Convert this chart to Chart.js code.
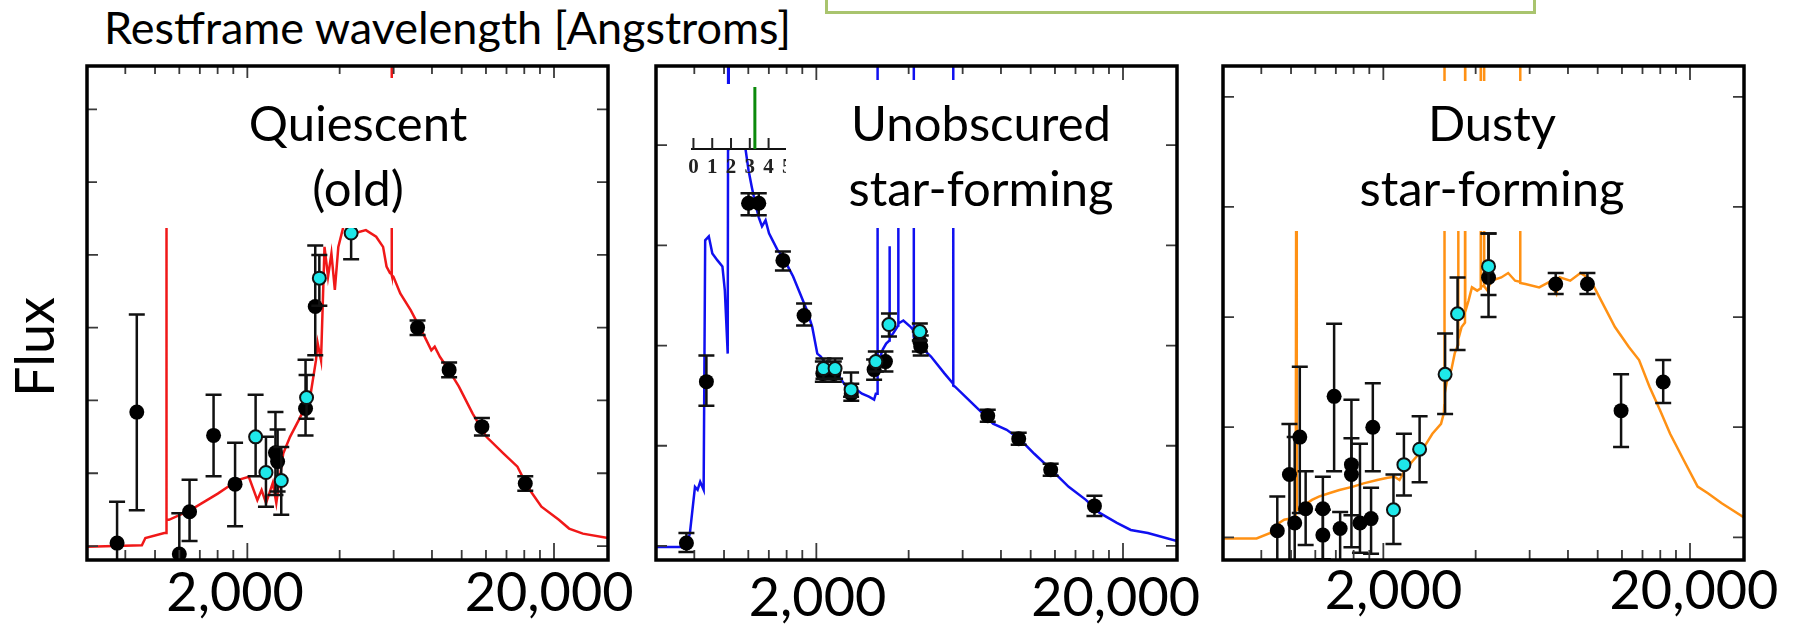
<!DOCTYPE html>
<html>
<head>
<meta charset="utf-8">
<title>SED fits</title>
<script src="https://cdn.jsdelivr.net/npm/chart.js@4.4.1/dist/chart.umd.min.js"></script>
<style>
  html, body { margin: 0; padding: 0; }
  body { position: relative; width: 1794px; height: 624px; overflow: hidden; background: #fff;
         font-family: Lato, "Open Sans", sans-serif; color: #000; }
  .abs { position: absolute; }
  #slideBox { left: 825px; top: -12px; width: 705px; height: 20px; border: 3px solid #a9c46e; }
  #title { left: 104px; top: 5px; font-size: 45px; line-height: 45px; white-space: nowrap; }
  #flux { left: -66px; top: 317px; width: 200px; height: 60px; font-size: 54px; line-height: 60px;
          text-align: center; transform: rotate(-90deg); }
  .plot { top: 40px; }
  #c1 { left: 57px; }
  #c2 { left: 626px; }
  #c3 { left: 1193px; }
  .cover { background: #fff; }
  .tag { width: 500px; top: 90px; text-align: center; font-size: 49px; line-height: 65px; white-space: nowrap; }
</style>
</head>
<body>
<div id="slideBox" class="abs"></div>
<div id="title" class="abs">Restframe wavelength [Angstroms]</div>
<div id="flux" class="abs">Flux</div>

<canvas id="c1" class="abs plot" width="611" height="584"></canvas>
<canvas id="c2" class="abs plot" width="611" height="584"></canvas>
<canvas id="c3" class="abs plot" width="611" height="584"></canvas>

<div class="abs cover" style="left:680px;top:84px;width:106px;height:65px"></div>
<canvas id="pz" class="abs" style="left:680px;top:80px" width="140" height="110"></canvas>

<div class="abs cover" style="left:97px;top:78px;width:499px;height:150px"></div>
<div class="abs cover" style="left:786px;top:80px;width:380px;height:148px"></div>
<div class="abs cover" style="left:1237px;top:81px;width:493px;height:150px"></div>
<div class="abs tag" style="left:108px">Quiescent<br>(old)</div>
<div class="abs tag" style="left:731px">Unobscured<br>star-forming</div>
<div class="abs tag" style="left:1242px">Dusty<br>star-forming</div>

<script>
// observed wavelength (micron) tick marks, flux in arbitrary units
const waveTicks = [0.4, 0.5, 0.6, 0.7, 0.8, 0.9, 1, 2, 3, 4, 5, 6, 7, 8, 9, 10];
const waveMajor = [1, 10];
const xTickLabels = ['2,000', '20,000'];

// --- quiescent galaxy ---
const oldLabelAt = [0.912, 9.64];
const oldFluxTicks = [0, 1, 2, 3, 4, 5, 6];
const oldModelWave = [0.30, 0.453, 0.465, 0.536, 0.543, 0.544, 0.546, 0.555, 0.650, 0.801,
  0.935, 1.011, 1.078, 1.113, 1.151, 1.211, 1.243, 1.309, 1.378, 1.471,
  1.528, 1.610, 1.674, 1.695, 1.739, 1.785, 1.833, 1.880, 1.929, 1.980,
  2.058, 2.15, 2.253, 2.435, 2.631, 2.771, 2.844, 2.918, 2.950, 2.955,
  2.960, 2.995, 3.153, 3.409, 3.591, 3.782, 3.981, 4.083, 4.245, 4.473,
  4.897, 5.43, 6.02, 6.85, 7.60, 8.21, 9.10, 10.37, 11.20, 12.42, 15.0];
const oldModelFlux = [-0.01, 0.01, 0.11, 0.18, 0.18, 5.8, 0.36, 0.36, 0.49, 0.72,
  0.91, 0.95, 0.63, 0.77, 0.59, 0.87, 0.59, 1.27, 1.50, 1.73,
  1.87, 2.10, 2.55, 2.79, 2.55, 4.11, 3.70, 4.02, 3.52, 4.11,
  4.39, 4.6, 4.30, 4.34, 4.25, 4.11, 3.84, 3.75, 3.74, 7.0,
  3.72, 3.70, 3.47, 3.24, 3.06, 2.88, 2.69, 2.74, 2.60, 2.46,
  2.19, 1.82, 1.50, 1.27, 1.09, 0.81, 0.54, 0.36, 0.24, 0.17, 0.11];
const oldPhotWave = [0.376, 0.436, 0.600, 0.648, 0.776, 0.912, 1.235, 1.255, 1.548, 1.665, 3.59, 4.55, 5.82, 8.06];
const oldPhotFlux = [0.04, 1.84, -0.11, 0.47, 1.52, 0.85, 1.28, 1.16, 1.89, 3.29, 3.00, 2.42, 1.64, 0.86];
const oldPhotLo   = [-0.5, 0.49, -0.5, 0.07, 0.96, 0.27, 0.70, 0.75, 1.52, 2.62, 2.90, 2.32, 1.52, 0.76];
const oldPhotHi   = [0.61, 3.18, 0.45, 0.91, 2.08, 1.42, 1.84, 1.60, 2.56, 4.13, 3.10, 2.52, 1.76, 0.96];
const oldMbWave = [1.064, 1.15, 1.29, 1.56, 1.717, 2.18];
const oldMbFlux = [1.50, 1.01, 0.90, 2.04, 3.68, 4.30];
const oldMbLo   = [0.96, 0.54, 0.43, 1.75, 3.30, 3.94];
const oldMbHi   = [2.08, 1.50, 1.36, 2.35, 4.00, 4.70];

// --- unobscured star-forming galaxy ---
const sfLabelAt = [1.009, 9.46];
const sfFluxTicks = [0, 1, 2, 3, 4];
const sfModelWave = [0.30, 0.377, 0.387, 0.402, 0.410, 0.418, 0.429, 0.434, 0.446, 0.458,
  0.476, 0.494, 0.503, 0.514, 0.516, 0.518, 0.53, 0.56, 0.585, 0.601,
  0.616, 0.632, 0.649, 0.665, 0.683, 0.701, 0.720, 0.748, 0.778, 0.798,
  0.840, 0.885, 0.932, 0.969, 1.007, 1.034, 1.088, 1.146, 1.206, 1.271,
  1.338, 1.409, 1.484, 1.543, 1.563, 1.581, 1.583, 1.585, 1.604, 1.646,
  1.689, 1.731, 1.733, 1.735, 1.779, 1.848, 1.850, 1.852, 1.922, 2.024,
  2.076, 2.078, 2.080, 2.131, 2.187, 2.365, 2.620, 2.793, 2.795, 2.797,
  2.834, 3.061, 3.308, 3.577, 3.768, 4.175, 4.632, 5.137, 5.844, 6.651,
  7.567, 8.393, 9.551, 10.60, 12.05, 15.0];
const sfModelFlux = [-0.01, -0.01, 0.13, 0.59, 0.56, 0.64, 0.56, 3.05, 3.09, 2.92,
  2.85, 2.79, 2.55, 1.92, 5.2, 3.97, 4.1, 4.15, 4.0, 3.75,
  3.58, 3.42, 3.28, 3.19, 3.25, 3.12, 3.05, 2.95, 2.89, 2.82,
  2.69, 2.52, 2.35, 2.19, 1.92, 1.89, 1.79, 1.76, 1.66, 1.56,
  1.57, 1.52, 1.49, 1.46, 1.52, 1.52, 5.2, 1.80, 1.86, 1.96,
  2.02, 2.05, 2.99, 2.08, 2.12, 2.20, 3.4, 2.22, 2.25, 2.19,
  2.15, 5.2, 2.08, 2.02, 1.99, 1.89, 1.72, 1.62, 5.2, 1.60,
  1.59, 1.49, 1.39, 1.29, 1.22, 1.16, 1.06, 0.92, 0.76, 0.59,
  0.46, 0.33, 0.23, 0.16, 0.13, 0.05];
const sfPhotWave = [0.377, 0.438, 0.601, 0.649, 0.778, 0.912, 1.05, 1.14, 1.30, 1.543, 1.680, 2.175, 2.19, 3.622, 4.57, 5.81, 8.07];
const sfPhotFlux = [0.03, 1.64, 3.42, 3.42, 2.85, 2.30, 1.72, 1.72, 1.52, 1.76, 1.84, 2.04, 1.99, 1.30, 1.07, 0.76, 0.40];
const sfPhotLo   = [-0.06, 1.40, 3.30, 3.30, 2.75, 2.20, 1.64, 1.64, 1.45, 1.66, 1.74, 1.94, 1.90, 1.24, 1.01, 0.70, 0.30];
const sfPhotHi   = [0.13, 1.90, 3.52, 3.52, 2.94, 2.42, 1.84, 1.84, 1.62, 1.86, 1.94, 2.14, 2.10, 1.36, 1.13, 0.82, 0.50];
const sfMbWave = [1.055, 1.151, 1.298, 1.563, 1.725, 2.175];
const sfMbFlux = [1.77, 1.77, 1.56, 1.84, 2.21, 2.14];
const sfMbLo   = [1.67, 1.67, 1.49, 1.74, 2.09, 2.05];
const sfMbHi   = [1.87, 1.87, 1.73, 1.94, 2.32, 2.22];

// redshift probability of the star-forming fit
const pzTicks = [0, 1, 2, 3, 4, 5];
const pzPeak = [3.27];

// --- dusty star-forming galaxy ---
const dustyLabelAt = [1.079, 10.3];
const dustyFluxTicks = [0, 1, 2, 3, 4];
const dustyModelWave = [0.30, 0.386, 0.428, 0.457, 0.475, 0.518, 0.520, 0.522, 0.527, 0.585,
  0.616, 0.665, 0.719, 0.797, 0.862, 0.955, 1.033, 1.088, 1.129, 1.175,
  1.253, 1.338, 1.445, 1.542, 1.576, 1.580, 1.582, 1.584, 1.623, 1.666,
  1.709, 1.753, 1.755, 1.757, 1.800, 1.846, 1.848, 1.850, 1.896, 1.945,
  2.023, 2.075, 2.077, 2.079, 2.128, 2.130, 2.132, 2.186, 2.243, 2.424,
  2.553, 2.690, 2.793, 2.795, 2.797, 2.905, 3.222, 3.480, 3.666, 3.761,
  4.068, 4.394, 4.629, 4.876, 5.266, 5.693, 6.310, 6.823, 7.372, 7.966,
  8.613, 9.544, 10.59, 11.44, 12.69, 15.0];
const dustyModelFlux = [-0.01, -0.01, 0.04, 0.13, 0.16, 0.18, 3.9, 0.25, 0.25, 0.34,
  0.37, 0.40, 0.43, 0.46, 0.49, 0.52, 0.54, 0.55, 0.52, 0.61,
  0.70, 0.79, 0.94, 1.03, 1.13, 1.20, 4.5, 1.30, 1.46, 1.52,
  1.67, 1.75, 3.2, 1.80, 1.91, 1.95, 4.5, 2.05, 2.15, 2.27,
  2.24, 2.26, 4.5, 2.28, 2.28, 4.5, 2.28, 2.24, 2.33, 2.36,
  2.40, 2.33, 2.32, 4.5, 2.31, 2.30, 2.27, 2.32, 2.21, 2.36,
  2.33, 2.40, 2.36, 2.27, 2.09, 1.91, 1.73, 1.61, 1.37, 1.16,
  0.94, 0.70, 0.46, 0.40, 0.31, 0.18];
const dustyPhotWave = [0.451, 0.494, 0.514, 0.534, 0.558, 0.635, 0.635, 0.691, 0.723, 0.787, 0.787, 0.839, 0.912, 0.924, 2.203, 3.648, 4.629, 5.960, 8.177];
const dustyPhotFlux = [0.06, 0.57, 0.13, 0.91, 0.26, 0.26, 0.02, 1.28, 0.08, 0.66, 0.57, 0.13, 0.17, 1.00, 2.36, 2.30, 2.30, 1.15, 1.41];
const dustyPhotLo   = [-0.5, -0.3, -0.5, 0.22, -0.07, -0.2, -0.5, 0.60, -0.5, -0.09, 0.20, -0.14, -0.15, 0.60, 2.00, 2.21, 2.21, 0.82, 1.22];
const dustyPhotHi   = [0.37, 1.03, 0.91, 1.55, 0.60, 0.55, 0.25, 1.94, 0.23, 1.25, 0.90, 0.85, 0.45, 1.40, 2.76, 2.40, 2.40, 1.48, 1.61];
const dustyMbWave = [1.079, 1.167, 1.313, 1.590, 1.746, 2.203];
const dustyMbFlux = [0.25, 0.66, 0.80, 1.48, 2.03, 2.46];
const dustyMbLo   = [-0.06, 0.38, 0.50, 1.12, 1.70, 2.20];
const dustyMbHi   = [0.57, 0.94, 1.10, 1.85, 2.36, 2.76];

Chart.defaults.font.family = 'Lato';

const pts = (xs, ys) => xs.map((x, i) => ({ x: x, y: ys[i] }));

// vertical error bars with caps, drawn right before the points they belong to
const errorBars = {
  id: 'errorBars',
  beforeDatasetDraw(chart, args) {
    const ds = chart.data.datasets[args.index];
    if (!ds.errLo) return;
    const { ctx, chartArea: a, scales: { x, y } } = chart;
    ctx.save();
    ctx.beginPath();
    ctx.rect(a.left, a.top, a.right - a.left, a.bottom - a.top);
    ctx.clip();
    ctx.strokeStyle = '#111';
    ctx.lineWidth = 2.5;
    ds.data.forEach((p, i) => {
      const px = x.getPixelForValue(p.x);
      const lo = y.getPixelForValue(ds.errLo[i]);
      const hi = y.getPixelForValue(ds.errHi[i]);
      ctx.beginPath();
      ctx.moveTo(px, lo); ctx.lineTo(px, hi);
      ctx.moveTo(px - 8, lo); ctx.lineTo(px + 8, lo);
      ctx.moveTo(px - 8, hi); ctx.lineTo(px + 8, hi);
      ctx.stroke();
    });
    ctx.restore();
  }
};

// box around the plot with inward tick marks on all four sides
function frameAndTicks(fluxTicks) {
  return {
    id: 'frameAndTicks',
    afterDatasetsDraw(chart) {
      const { ctx, chartArea: a, scales: { x, y } } = chart;
      ctx.save();
      ctx.strokeStyle = '#3a3a3a';
      ctx.lineWidth = 1.8;
      ctx.beginPath();
      waveTicks.forEach(v => {
        const px = x.getPixelForValue(v);
        const major = waveMajor.includes(v);
        ctx.moveTo(px, a.bottom); ctx.lineTo(px, a.bottom - (major ? 17 : 10));
        ctx.moveTo(px, a.top); ctx.lineTo(px, a.top + (major ? 14 : 8));
      });
      fluxTicks.forEach(v => {
        const py = y.getPixelForValue(v);
        ctx.moveTo(a.left, py); ctx.lineTo(a.left + 11, py);
        ctx.moveTo(a.right, py); ctx.lineTo(a.right - 11, py);
      });
      ctx.stroke();
      ctx.strokeStyle = '#000';
      ctx.lineWidth = 3.5;
      ctx.strokeRect(a.left, a.top, a.right - a.left, a.bottom - a.top);
      ctx.restore();
    }
  };
}

function sedPanel(id, s) {
  return new Chart(document.getElementById(id), {
    type: 'scatter',
    data: {
      datasets: [
        { data: pts(s.mbWave, s.mbFlux), errLo: s.mbLo, errHi: s.mbHi, order: 0,
          pointRadius: 6.5, backgroundColor: '#1ee8ea', borderColor: '#111', borderWidth: 2 },
        { data: pts(s.photWave, s.photFlux), errLo: s.photLo, errHi: s.photHi, order: 1,
          pointRadius: 7.5, backgroundColor: '#000', borderWidth: 0 },
        { data: pts(s.modelWave, s.modelFlux), showLine: true, order: 2,
          pointRadius: 0, borderColor: s.color, borderWidth: 2.5, tension: 0 }
      ]
    },
    options: {
      responsive: false,
      animation: false,
      devicePixelRatio: 1,
      events: [],
      layout: { padding: { left: 30, right: 60, top: 26, bottom: 0 } },
      plugins: { legend: { display: false }, tooltip: { enabled: false } },
      scales: {
        x: {
          type: 'logarithmic', min: 0.3, max: 15,
          afterBuildTicks: sc => { sc.ticks = s.labelAt.map(v => ({ value: v })); },
          afterFit: sc => { sc.height = 64; },
          grid: { display: false, drawTicks: false },
          border: { display: false },
          ticks: {
            callback: (v, i) => xTickLabels[i],
            font: { size: 54, lineHeight: 1 }, color: '#000',
            padding: s.labelPad, maxRotation: 0, autoSkip: false
          }
        },
        y: { display: false, min: s.yMin, max: s.yMax }
      }
    },
    plugins: [errorBars, frameAndTicks(s.fluxTicks)]
  });
}

sedPanel('c1', {
  color: '#f01818', labelAt: oldLabelAt, labelPad: 7, fluxTicks: oldFluxTicks, yMin: -0.192, yMax: 6.595,
  modelWave: oldModelWave, modelFlux: oldModelFlux,
  photWave: oldPhotWave, photFlux: oldPhotFlux, photLo: oldPhotLo, photHi: oldPhotHi,
  mbWave: oldMbWave, mbFlux: oldMbFlux, mbLo: oldMbLo, mbHi: oldMbHi
});
sedPanel('c2', {
  color: '#1010f0', labelAt: sfLabelAt, labelPad: 12, fluxTicks: sfFluxTicks, yMin: -0.14, yMax: 4.79,
  modelWave: sfModelWave, modelFlux: sfModelFlux,
  photWave: sfPhotWave, photFlux: sfPhotFlux, photLo: sfPhotLo, photHi: sfPhotHi,
  mbWave: sfMbWave, mbFlux: sfMbFlux, mbLo: sfMbLo, mbHi: sfMbHi
});
sedPanel('c3', {
  color: '#ff9114', labelAt: dustyLabelAt, labelPad: 5, fluxTicks: dustyFluxTicks, yMin: -0.206, yMax: 4.28,
  modelWave: dustyModelWave, modelFlux: dustyModelFlux,
  photWave: dustyPhotWave, photFlux: dustyPhotFlux, photLo: dustyPhotLo, photHi: dustyPhotHi,
  mbWave: dustyMbWave, mbFlux: dustyMbFlux, mbLo: dustyMbLo, mbHi: dustyMbHi
});

// small P(z) inset in the star-forming panel
const pzAxisTicks = {
  id: 'pzAxisTicks',
  afterDraw(chart) {
    const { ctx, chartArea: a, scales: { x } } = chart;
    ctx.save();
    ctx.strokeStyle = '#222';
    ctx.lineWidth = 2;
    ctx.beginPath();
    pzTicks.forEach(v => {
      const px = x.getPixelForValue(v);
      ctx.moveTo(px, a.bottom); ctx.lineTo(px, a.bottom - 11);
    });
    ctx.stroke();
    ctx.restore();
  }
};

new Chart(document.getElementById('pz'), {
  type: 'scatter',
  data: {
    datasets: [{
      data: [{ x: pzPeak[0], y: 0 }, { x: pzPeak[0], y: 1 }],
      showLine: true, pointRadius: 0, borderColor: '#0b8a0b', borderWidth: 3
    }]
  },
  options: {
    responsive: false,
    animation: false,
    devicePixelRatio: 1,
    events: [],
    layout: { padding: { left: 11, right: 30, top: 7, bottom: 0 } },
    plugins: { legend: { display: false }, tooltip: { enabled: false } },
    scales: {
      x: {
        type: 'linear', min: -0.095, max: 5.14,
        afterBuildTicks: sc => { sc.ticks = pzTicks.map(v => ({ value: v })); },
        afterFit: sc => { sc.height = 41; },
        grid: { display: false, drawTicks: false },
        border: { display: true, color: '#111', width: 2 },
        ticks: { font: { family: 'Liberation Serif', size: 21, weight: 'bold', lineHeight: 1 },
                 color: '#222', padding: 8, maxRotation: 0, autoSkip: false }
      },
      y: { display: false, min: 0, max: 1 }
    }
  },
  plugins: [pzAxisTicks]
});
</script>
</body>
</html>
